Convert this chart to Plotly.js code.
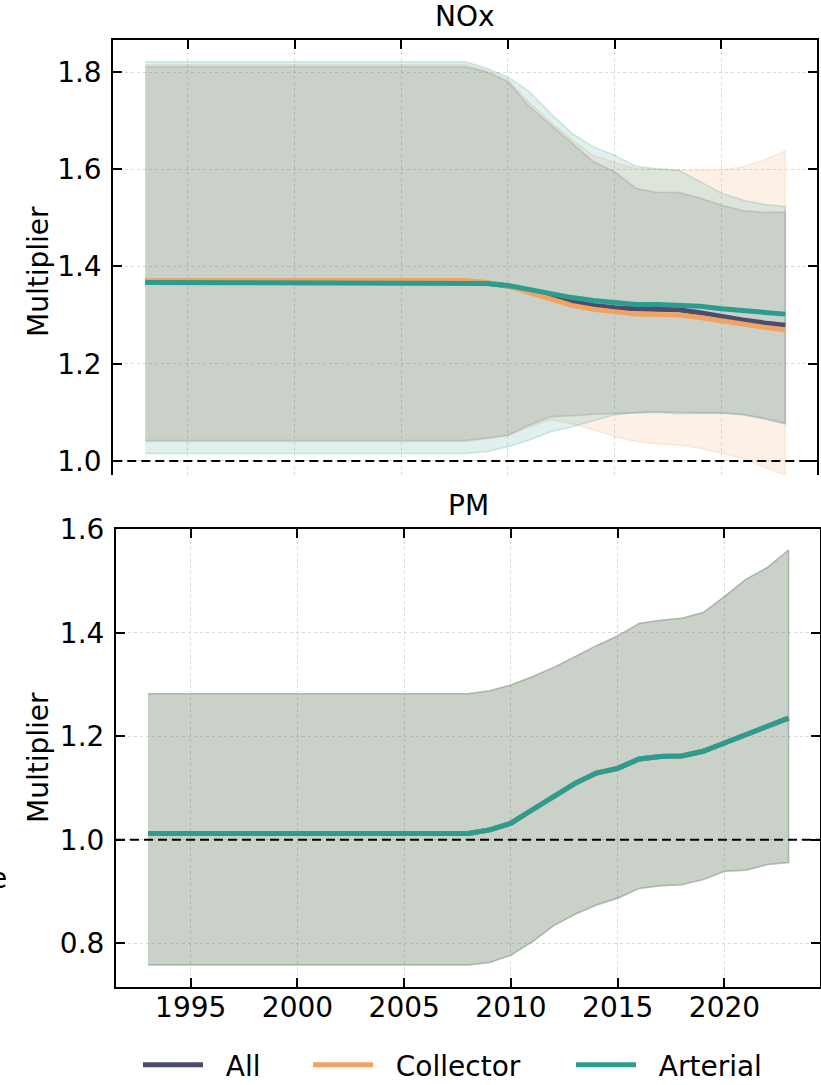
<!DOCTYPE html>
<html>
<head>
<meta charset="utf-8">
<script src="https://cdn.plot.ly/plotly-3.0.1.min.js"></script>
<style>
html,body{margin:0;padding:0;background:#ffffff;}
#chart{width:821px;height:1085px;}
</style>
</head>
<body>
<div id="chart"></div>
<script>
// ---------- data ----------
const years = [1993,1994,1995,1996,1997,1998,1999,2000,2001,2002,2003,2004,2005,2006,2007,2008,
               2009,2010,2011,2012,2013,2014,2015,2016,2017,2018,2019,2020,2021,2022,2023];

const seriesNames = ["All", "Collector", "Arterial"];
const seriesColors = ["74,78,108", "244,162,97", "42,157,143"];

// NOx – median multiplier
const noxAllMid = [1.369,1.369,1.369,1.369,1.369,1.369,1.369,1.369,1.369,1.369,1.369,1.369,1.369,1.369,1.369,1.369,
                   1.366,1.360,1.349,1.338,1.328,1.320,1.315,1.313,1.312,1.311,1.305,1.297,1.290,1.284,1.279];
const noxColMid = [1.371,1.371,1.371,1.371,1.371,1.371,1.371,1.371,1.371,1.371,1.371,1.371,1.371,1.371,1.371,1.371,
                   1.367,1.360,1.346,1.332,1.320,1.312,1.306,1.302,1.301,1.300,1.295,1.288,1.281,1.275,1.270];
const noxArtMid = [1.367,1.367,1.367,1.367,1.367,1.367,1.367,1.367,1.367,1.367,1.367,1.367,1.367,1.367,1.367,1.367,
                   1.365,1.361,1.352,1.343,1.336,1.330,1.325,1.322,1.322,1.321,1.318,1.313,1.309,1.305,1.302];
// NOx – upper bounds
const noxAllHi = [1.811,1.811,1.811,1.811,1.811,1.811,1.811,1.811,1.811,1.811,1.811,1.811,1.811,1.811,1.811,1.811,
                  1.800,1.780,1.729,1.691,1.653,1.616,1.595,1.561,1.552,1.552,1.541,1.526,1.515,1.511,1.512];
const noxColHi = [1.815,1.815,1.815,1.815,1.815,1.815,1.815,1.815,1.815,1.815,1.815,1.815,1.815,1.815,1.815,1.815,
                  1.803,1.784,1.737,1.697,1.660,1.628,1.614,1.601,1.600,1.598,1.598,1.598,1.605,1.619,1.638];
const noxArtHi = [1.821,1.821,1.821,1.821,1.821,1.821,1.821,1.821,1.821,1.821,1.821,1.821,1.821,1.821,1.821,1.821,
                  1.808,1.790,1.760,1.715,1.674,1.646,1.629,1.606,1.601,1.598,1.575,1.551,1.537,1.528,1.523];
// NOx – lower bounds
const noxAllLo = [1.042,1.042,1.042,1.042,1.042,1.042,1.042,1.042,1.042,1.042,1.042,1.042,1.042,1.042,1.042,1.042,
                  1.047,1.053,1.074,1.091,1.093,1.096,1.098,1.099,1.101,1.100,1.099,1.098,1.095,1.086,1.076];
const noxColLo = [1.040,1.040,1.040,1.040,1.040,1.040,1.040,1.040,1.040,1.040,1.040,1.040,1.040,1.040,1.040,1.040,
                  1.045,1.052,1.070,1.085,1.077,1.064,1.050,1.040,1.035,1.033,1.026,1.016,1.005,0.988,0.971];
const noxArtLo = [1.015,1.015,1.015,1.015,1.015,1.015,1.015,1.015,1.015,1.015,1.015,1.015,1.015,1.015,1.015,1.015,
                  1.019,1.029,1.043,1.060,1.070,1.083,1.095,1.099,1.100,1.097,1.098,1.099,1.096,1.088,1.078];

// PM – the three road classes coincide
const pmMid = [1.012,1.012,1.012,1.012,1.012,1.012,1.012,1.012,1.012,1.012,1.012,1.012,1.012,1.012,1.012,1.012,
               1.019,1.032,1.058,1.084,1.109,1.129,1.138,1.156,1.161,1.162,1.171,1.187,1.203,1.219,1.235];
const pmHi  = [1.282,1.282,1.282,1.282,1.282,1.282,1.282,1.282,1.282,1.282,1.282,1.282,1.282,1.282,1.282,1.282,
               1.288,1.299,1.315,1.333,1.354,1.375,1.394,1.418,1.424,1.428,1.439,1.470,1.503,1.526,1.560];
const pmLo  = [0.758,0.758,0.758,0.758,0.758,0.758,0.758,0.758,0.758,0.758,0.758,0.758,0.758,0.758,0.758,0.758,
               0.763,0.777,0.803,0.834,0.856,0.874,0.887,0.906,0.911,0.913,0.923,0.939,0.941,0.952,0.956];

const xTickVals = [1995, 2000, 2005, 2010, 2015, 2020];
const yTickValsTop = [1.0, 1.2, 1.4, 1.6, 1.8];
const yTickValsBottom = [0.8, 1.0, 1.2, 1.4, 1.6];

const noxMid = [noxAllMid, noxColMid, noxArtMid];
const noxHi = [noxAllHi, noxColHi, noxArtHi];
const noxLo = [noxAllLo, noxColLo, noxArtLo];
const pmMids = [pmMid, pmMid, pmMid];
const pmHis = [pmHi, pmHi, pmHi];
const pmLos = [pmLo, pmLo, pmLo];

// ---------- traces ----------
const FONT = "DejaVu Sans, Verdana, sans-serif";
const NB = "\u00a0";
const legendIds = ["legend", "legend2", "legend3"];
const traces = [];
function band(hi, lo, rgb, xa, ya) {
  return {
    x: years.concat(years.slice().reverse()),
    y: hi.concat(lo.slice().reverse()),
    xaxis: xa, yaxis: ya,
    type: "scatter", mode: "lines",
    fill: "toself",
    fillcolor: "rgba(" + rgb + ",0.15)",
    line: {color: "rgba(" + rgb + ",0.2)", width: 1.5},
    hoverinfo: "skip", showlegend: false
  };
}
for (let i = 0; i < 3; i++) traces.push(band(noxHi[i], noxLo[i], seriesColors[i], "x2", "y2"));
for (let i = 0; i < 3; i++) traces.push(band(pmHis[i], pmLos[i], seriesColors[i], "x", "y"));
for (let i = 0; i < 3; i++) {
  traces.push({
    x: years, y: noxMid[i], xaxis: "x2", yaxis: "y2",
    type: "scatter", mode: "lines", name: NB + NB + seriesNames[i],
    line: {color: "rgb(" + seriesColors[i] + ")", width: 5},
    showlegend: true, legend: legendIds[i]
  });
}
for (let i = 0; i < 3; i++) {
  traces.push({
    x: years, y: pmMids[i], xaxis: "x", yaxis: "y",
    type: "scatter", mode: "lines", name: seriesNames[i],
    line: {color: "rgb(" + seriesColors[i] + ")", width: 5},
    showlegend: false
  });
}

// ---------- layout ----------
const W = 821, H = 1085;
const ML = 113, MR = 1, MT = 40, MB = 98;
const PW = W - ML - MR, PH = H - MT - MB;
const px = v => (v - ML) / PW;
const py = v => (H - MB - v) / PH;

const axCommon = {
  showline: true, linecolor: "#000", linewidth: 2,
  ticks: "inside", ticklen: 9, tickwidth: 2, tickcolor: "#000",
  showgrid: true, gridcolor: "#d9d9d9", gridwidth: 1, griddash: "dot",
  zeroline: false, automargin: false,
  tickfont: {family: FONT, size: 28, color: "#000"}
};

function legendAt(xPix) {
  return {
    orientation: "h", xref: "container", yref: "container",
    x: xPix / W, xanchor: "left", y: (H - 1065) / H, yanchor: "middle",
    font: {family: FONT, size: 28, color: "#000"}, bgcolor: "rgba(0,0,0,0)",
    itemwidth: 60, itemclick: false, itemdoubleclick: false
  };
}

const layout = {
  width: W, height: H,
  margin: {l: ML, r: MR, t: MT, b: MB, pad: 0, autoexpand: false},
  paper_bgcolor: "#ffffff", plot_bgcolor: "rgba(0,0,0,0)",
  font: {family: FONT, size: 28, color: "#000"},
  xaxis: Object.assign({}, axCommon, {
    domain: [px(116), px(819.5)], range: [1991.5, 2024.45], anchor: "y",
    mirror: "ticks", tickmode: "array", tickvals: xTickVals,
    ticklabelstandoff: -6
  }),
  yaxis: Object.assign({}, axCommon, {
    domain: [0, py(529)], range: [0.7155, 1.6005], anchor: "x",
    mirror: "ticks", tickmode: "array", tickvals: yTickValsBottom, tickformat: ".1f",
    ticklabelstandoff: 4
  }),
  xaxis2: Object.assign({}, axCommon, {
    domain: [px(113.3), px(816.7)], range: [1991.5, 2024.47], anchor: "y2",
    side: "top", mirror: false, showticklabels: false,
    tickmode: "array", tickvals: xTickVals
  }),
  yaxis2: Object.assign({}, axCommon, {
    domain: [py(475), 1], range: [0.971, 1.866], anchor: "x2",
    mirror: "ticks", tickmode: "array", tickvals: yTickValsTop, tickformat: ".1f",
    ticklabelstandoff: 4
  }),
  shapes: [
    {type: "line", xref: "x2 domain", x0: 0, x1: 1, yref: "y2", y0: 1, y1: 1,
     line: {color: "#000", width: 2, dash: "9px,5px"}, layer: "above"},
    {type: "line", xref: "x domain", x0: 0, x1: 1, yref: "y", y0: 1, y1: 1,
     line: {color: "#000", width: 2, dash: "9px,5px"}, layer: "above"}
  ],
  annotations: [
    {text: "NOx", xref: "paper", yref: "paper", x: px(465), y: py(17), xanchor: "center", yanchor: "middle",
     showarrow: false, font: {family: FONT, size: 28, color: "#000"}},
    {text: "PM", xref: "paper", yref: "paper", x: px(468), y: py(505), xanchor: "center", yanchor: "middle",
     showarrow: false, font: {family: FONT, size: 28, color: "#000"}},
    {text: "Multiplier", xref: "paper", yref: "paper", x: px(38), y: py(272), xanchor: "center", yanchor: "middle",
     textangle: -90, showarrow: false, font: {family: FONT, size: 28, color: "#000"}},
    {text: "Multiplier", xref: "paper", yref: "paper", x: px(38), y: py(758), xanchor: "center", yanchor: "middle",
     textangle: -90, showarrow: false, font: {family: FONT, size: 28, color: "#000"}},
    {text: "e", xref: "paper", yref: "paper", x: px(9), y: py(878), xanchor: "right", yanchor: "middle",
     showarrow: false, font: {family: FONT, size: 28, color: "#000"}}
  ],
  showlegend: true,
  legend: legendAt(138),
  legend2: legendAt(308),
  legend3: legendAt(571)
};

Plotly.newPlot("chart", traces, layout, {staticPlot: true, displayModeBar: false});
</script>
</body>
</html>
